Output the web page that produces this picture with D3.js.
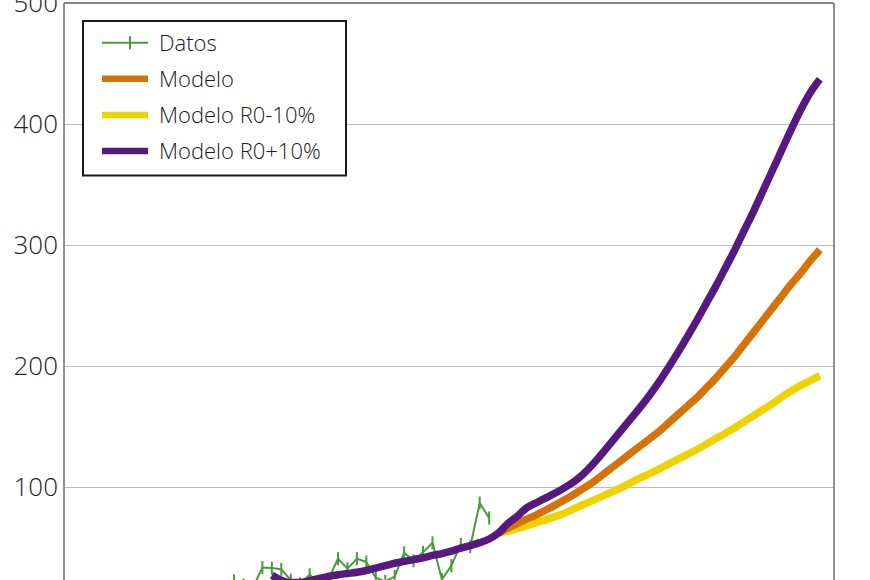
<!DOCTYPE html>
<html><head><meta charset="utf-8">
<script src="https://cdn.jsdelivr.net/npm/d3@7"></script>
<style>body{margin:0;background:#fff;} svg{display:block;}</style>
</head><body>
<svg id="c" width="870" height="580"></svg>
<script>
// ---- data (day index) ----
const dataStartDay = 17;
const dataValues = [15, 22.5, 19, 17, 33.5, 33, 32, 23, 20, 27.5, 21, 24, 40.7, 32.5, 40.7, 38, 25, 22, 26, 45.6, 39, 46, 53.9, 23.5, 35, 52.6, 50.6, 86.8, 74.4];

const plusStartDay = 22;
const modelPlusValues = [27, 23, 21, 21, 22.5, 24.5, 26, 27.5, 28.5, 29.5, 31, 33, 35, 37, 38.5, 40, 41.5, 43.5, 45, 47, 49.5, 51.5, 54, 57, 62, 70, 76, 83, 87, 91, 95, 99.5, 104.5, 111, 119, 128, 137.5, 147, 156.5, 166, 176, 187, 199, 211.5, 224.5, 238, 252, 266, 281, 296, 312, 328, 345, 362, 379, 396, 412, 426, 437];

const modelStartDay = 46;
const modelValues = [62, 66, 70, 73.5, 77, 81, 85, 89.5, 94, 99, 104, 110, 116, 122, 128, 134, 140, 146, 153, 160, 167, 174, 182, 190, 199, 208, 218, 228, 238, 248, 258, 268, 277, 287, 296];
const modelMinusValues = [62, 63.5, 65.5, 68, 70.5, 73, 75.5, 78.5, 82, 85.5, 89, 92.5, 96, 99.5, 103.5, 107.5, 111, 115, 119, 123, 127, 131, 135.5, 140, 144.5, 149, 154, 159, 164, 169, 174.5, 179.5, 184, 188, 192];

const yTicks = [100, 200, 300, 400, 500];
const legendLabels = ["Datos", "Modelo", "Modelo R0-10%", "Modelo R0+10%"];
const legendColors = ["#4c9a3a", "#d6720a", "#f2d100", "#58197f"];

// ---- layout ----
const svg = d3.select("#c");
const pLeft = 64, pRight = 834, pTop = 3;
const x = d3.scaleLinear().domain([0, 81.5]).range([pLeft, pRight]);
const y = d3.scaleLinear().domain([0, 500]).range([608, pTop]);
const font = "'Open Sans', 'Liberation Sans', sans-serif";

svg.append("defs").append("clipPath").attr("id", "plot")
  .append("rect").attr("x", pLeft).attr("y", pTop).attr("width", pRight - pLeft).attr("height", 700);

// gridlines
const grid = svg.append("g").attr("transform", `translate(${pLeft},0)`)
  .call(d3.axisLeft(y).tickValues(yTicks.slice(0, 4)).tickSize(-(pRight - pLeft)).tickFormat(""));
grid.select(".domain").remove();
grid.selectAll("line").attr("stroke", "#bdbdbd").attr("stroke-width", 1);

// frame
svg.append("line").attr("x1", pLeft).attr("x2", pLeft).attr("y1", pTop).attr("y2", 580).attr("stroke", "#858585").attr("stroke-width", 1.8);
svg.append("line").attr("x1", pRight).attr("x2", pRight).attr("y1", pTop).attr("y2", 580).attr("stroke", "#858585").attr("stroke-width", 1.8);
svg.append("line").attr("x1", pLeft).attr("x2", pRight).attr("y1", pTop).attr("y2", pTop).attr("stroke", "#858585").attr("stroke-width", 1.8);

// y labels
const ya = svg.append("g").attr("transform", `translate(${pLeft},0)`)
  .call(d3.axisLeft(y).tickValues(yTicks).tickSize(0).tickPadding(6).tickFormat(d3.format("d")));
ya.select(".domain").remove();
ya.selectAll("text").attr("font-family", font).attr("font-size", 26).attr("font-weight", 300).attr("fill", "#222");

const plot = svg.append("g").attr("clip-path", "url(#plot)");

const toPts = (start, vals) => vals.map((v, i) => [start + i, v]);
const line = d3.line().x(d => x(d[0])).y(d => y(d[1]));
const smooth = d3.line().x(d => x(d[0])).y(d => y(d[1])).curve(d3.curveMonotoneX);

// data
const dpts = toPts(dataStartDay, dataValues);
plot.append("path").attr("d", line(dpts)).attr("fill", "none")
  .attr("stroke", legendColors[0]).attr("stroke-width", 2).attr("stroke-linejoin", "round");
const pl = 6.5;
plot.selectAll("path.tick").data(dpts).enter().append("path").attr("class", "tick")
  .attr("d", d => `M${x(d[0])},${y(d[1]) - pl}V${y(d[1]) + pl}`)
  .attr("stroke", legendColors[0]).attr("stroke-width", 2).attr("fill", "none");

// models
const series = [
  [modelStartDay, modelMinusValues, legendColors[2]],
  [modelStartDay, modelValues, legendColors[1]],
  [plusStartDay, modelPlusValues, legendColors[3]]
];
series.forEach(([s, vals, col]) => {
  plot.append("path").attr("d", smooth(toPts(s, vals))).attr("fill", "none")
    .attr("stroke", col).attr("stroke-width", 7.5).attr("stroke-linejoin", "round");
});

// legend
const lg = svg.append("g");
lg.append("rect").attr("x", 83).attr("y", 21).attr("width", 263).attr("height", 154.5)
  .attr("fill", "#fff").attr("stroke", "#1a1a1a").attr("stroke-width", 2);
const rowY = d3.scaleLinear().domain([0, 3]).range([42.7, 151]);
legendLabels.forEach((lab, i) => {
  const yy = rowY(i);
  lg.append("line").attr("x1", 102).attr("x2", 148).attr("y1", yy).attr("y2", yy)
    .attr("stroke", legendColors[i]).attr("stroke-width", i === 0 ? 2 : 6.5);
  if (i === 0) {
    lg.append("line").attr("x1", 130).attr("x2", 130).attr("y1", yy - 6.5).attr("y2", yy + 6.5)
      .attr("stroke", legendColors[0]).attr("stroke-width", 2);
  }
  lg.append("text").attr("x", 159).attr("y", yy + 8).text(lab)
    .attr("font-family", font).attr("font-size", 22).attr("font-weight", 300).attr("fill", "#1a1a1a");
});
</script>
</body></html>
